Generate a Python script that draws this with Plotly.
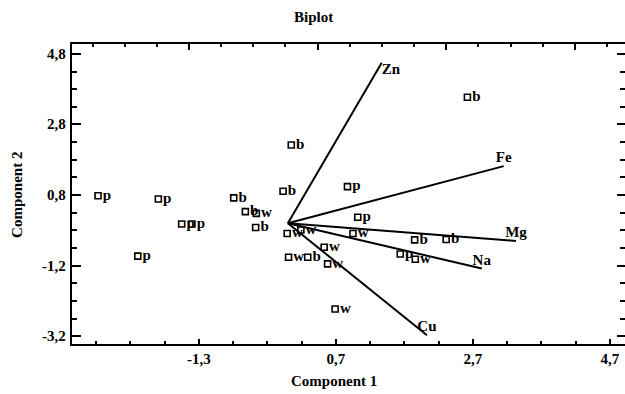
import plotly.graph_objects as go

# ---- data ----
p_x = [-2.77, -1.89, -1.55, -1.40, -2.19, 0.87, 1.02, 1.64]
p_y = [0.78, 0.69, -0.02, -0.02, -0.93, 1.04, 0.17, -0.87]
b_x = [-0.79, -0.62, -0.47, -0.07, 0.05, 1.85, 2.31, 0.29, 2.62]
b_y = [0.72, 0.33, -0.12, 0.91, 2.22, -0.47, -0.46, -0.96, 3.57]
w_x = [-0.46, -0.01, 0.01, 0.19, 0.95, 0.53, 1.86, 0.58, 0.69]
w_y = [0.28, -0.29, -0.96, -0.19, -0.29, -0.68, -1.02, -1.15, -2.43]

vec_names = ["Zn", "Fe", "Mg", "Na", "Cu"]
vec_x = [1.37, 3.15, 3.33, 2.83, 2.03]
vec_y = [4.55, 1.62, -0.50, -1.28, -3.17]
vec_textpos = ["bottom right", "top center", "top center", "top center", "top center"]

x_tickvals = [-1.3, 0.7, 2.7, 4.7]
x_ticktext = ["-1,3", "0,7", "2,7", "4,7"]
y_tickvals = [4.8, 2.8, 0.8, -1.2, -3.2]
y_ticktext = ["4,8", "2,8", "0,8", "-1,2", "-3,2"]

FONT = "Liberation Serif"
bold = dict(family=FONT, size=15, color="black", weight="bold")

fig = go.Figure()

for vx, vy in zip(vec_x, vec_y):
    fig.add_trace(go.Scatter(x=[0, vx], y=[0, vy], mode="lines",
                             line=dict(color="black", width=2),
                             hoverinfo="skip", showlegend=False))
fig.add_trace(go.Scatter(x=vec_x, y=vec_y, mode="text", text=vec_names,
                         textposition=vec_textpos, textfont=bold,
                         hoverinfo="skip", showlegend=False))

for gx, gy, lab in [(p_x, p_y, "p"), (b_x, b_y, "b"), (w_x, w_y, "w")]:
    fig.add_trace(go.Scatter(x=gx, y=gy, mode="markers+text",
                             text=[lab] * len(gx), textposition="middle right",
                             textfont=bold,
                             marker=dict(symbol="square-open", size=6, color="black",
                                         line=dict(width=1.6, color="black")),
                             showlegend=False))

# helper trace for the top / right tick axes
fig.add_trace(go.Scatter(x=[], y=[], xaxis="x2", yaxis="y2", hoverinfo="skip",
                         showlegend=False))

annotations = [
    dict(text="Biplot", xref="paper", yref="paper", x=0.4376, y=1.09,
         xanchor="center", yanchor="middle", showarrow=False, font=bold),
    dict(text="Component 1", xref="paper", yref="paper", x=0.474, y=-0.123,
         xanchor="center", yanchor="middle", showarrow=False, font=bold),
    dict(text="Component 2", xref="paper", yref="paper", x=-0.0995, y=0.497,
         xanchor="center", yanchor="middle", showarrow=False, font=bold,
         textangle=-90),
]
# y tick labels drawn as annotations next to the left axis
for v, t in zip(y_tickvals, y_ticktext):
    annotations.append(dict(text=t, xref="paper", yref="y", x=0, y=v,
                            xanchor="right", yanchor="middle", xshift=-4,
                            showarrow=False, font=bold))

fig.update_layout(
    width=625, height=394,
    margin=dict(l=72, r=0, t=44, b=50),
    plot_bgcolor="white", paper_bgcolor="white",
    showlegend=False,
    xaxis=dict(range=[-3.15, 4.92], tickmode="array", tickvals=x_tickvals,
               ticktext=x_ticktext, ticks="inside", ticklen=5, tickwidth=2,
               tickcolor="black", showline=True, linecolor="black", linewidth=2,
               mirror=True, showgrid=False, zeroline=False, tickfont=bold,
               minor=dict(tickmode="linear", tick0=0.7, dtick=0.5, ticks="inside",
                          ticklen=3, tickwidth=1.5, tickcolor="black", showgrid=False)),
    xaxis2=dict(overlaying="x", side="top", anchor="y2", range=[0, 17.2],
                tickmode="linear", tick0=3.64, dtick=4, ticks="inside", ticklen=6,
                tickwidth=2, tickcolor="black", showticklabels=False,
                showline=False, showgrid=False, zeroline=False,
                minor=dict(tickmode="linear", tick0=0.64, dtick=1, ticks="inside",
                           ticklen=3, tickwidth=1.5, tickcolor="black", showgrid=False)),
    yaxis=dict(range=[-3.42, 5.08], tickmode="array", tickvals=y_tickvals,
               ticks="inside", ticklen=9, tickwidth=2, showticklabels=False,
               tickcolor="black", showline=True, linecolor="black", linewidth=2,
               mirror=False, showgrid=False, zeroline=False,
               minor=dict(tickmode="linear", tick0=0.8, dtick=0.5, ticks="inside",
                          ticklen=5, tickwidth=1.5, tickcolor="black", showgrid=False)),
    yaxis2=dict(overlaying="y", side="right", anchor="x2", range=[-3.42, 5.08],
                tickmode="array", tickvals=y_tickvals, ticks="inside", ticklen=8,
                tickwidth=2, tickcolor="black", showticklabels=False,
                showline=False, showgrid=False, zeroline=False,
                minor=dict(tickmode="linear", tick0=0.8, dtick=0.5, ticks="inside",
                           ticklen=5, tickwidth=1.5, tickcolor="black", showgrid=False)),
    annotations=annotations,
)

fig.write_html("out.html")
